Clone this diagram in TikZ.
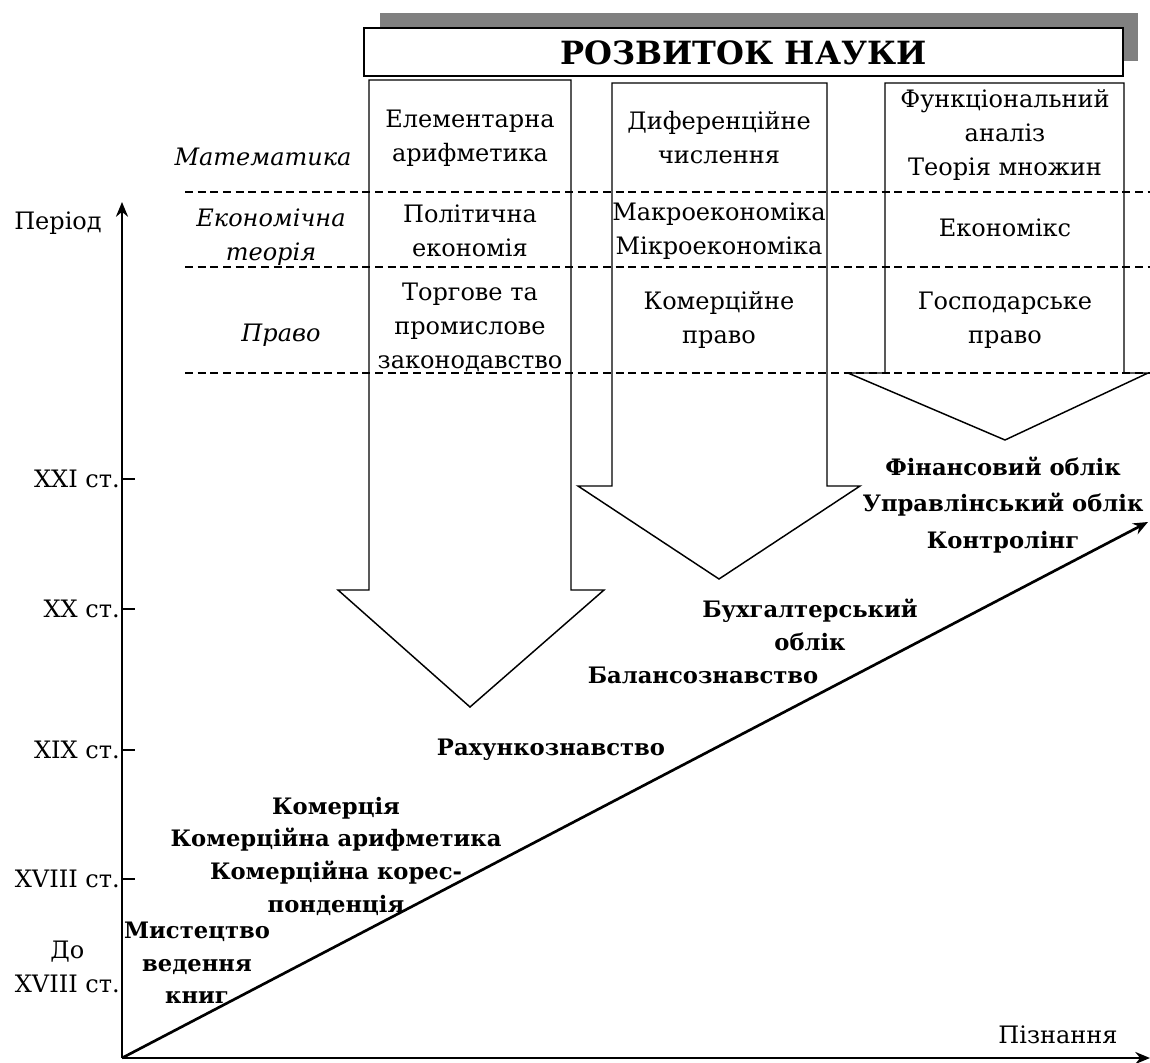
\documentclass[tikz,border=0pt]{standalone}
\usepackage{fontspec}
\setmainfont{DejaVu Serif}
\usetikzlibrary{arrows.meta}

\begin{document}
\begin{tikzpicture}[x=0.75pt,y=-0.75pt,
  txt/.style={align=center,inner sep=0pt,font=\fontsize{18}{25.5}\selectfont},
  btxt/.style={align=center,inner sep=0pt,font=\fontsize{17}{24.5}\selectfont\bfseries},
  itxt/.style={align=center,inner sep=0pt,font=\fontsize{18}{25.5}\selectfont\itshape},
  bigarrow/.style={line width=1.1pt,fill=white,line join=miter},
  level/.style={line width=0.8pt,dash pattern=on 6pt off 3.5pt},
  axis/.style={line width=2pt,-{Stealth[length=11pt,width=9pt]}},
  tick/.style={line width=1.1pt}]
\useasboundingbox (0,0) rectangle (1150,1063);
% title
\fill[gray] (380,13) rectangle (1138,61);
\draw[line width=1.1pt,fill=white] (364,28) rectangle (1123,76);
\node[inner sep=0pt,font=\fontsize{24}{30}\selectfont\bfseries] (title) at (743.5,53) {РОЗВИТОК НАУКИ};
% big arrows
\draw[bigarrow] (369,80) -- (571,80) -- (571,590) -- (604,590) -- (470,707) -- (338,590) -- (369,590) -- cycle;
\draw[bigarrow] (612,83) -- (827,83) -- (827,486) -- (860,486) -- (719,579) -- (578,486) -- (612,486) -- cycle;
\draw[bigarrow] (885,83) -- (1124,83) -- (1124,373) -- (1148,373) -- (1005,440) -- (848,373) -- (885,373) -- cycle;
% levels
\foreach \y in {192,267,373}
  \draw[level] (185,\y) -- (1150,\y);
% axes
\coordinate (O) at (122,1058);
\coordinate (ytop) at (122,202);
\coordinate (xend) at (1150,1058);
\coordinate (dend) at (1148,522);
\draw[axis] (O) -- (ytop);
\draw[axis] (O) -- (xend);
\draw[axis] (O) -- (dend);
\node[txt] (period) at (58,223) {Період};
\node[txt] (cogn) at (1058,1035) {Пізнання};
\foreach \y/\name/\lab in {479/c21/XXI ст.,609/c20/XX ст.,750/c19/XIX ст.,879/c18/XVIII ст.}{
  \draw[tick] (122,\y) -- (135,\y);
  \node[txt,anchor=east] (\name) at (120,\y) {\lab};
}
\node[txt,anchor=east] (c17) at (120,967) {До\\XVIII ст.};
% sciences
\node[itxt] (math) at (263,157) {Математика};
\node[itxt] (econ) at (271,237) {Економічна\\теорія};
\node[itxt] (law) at (281,335) {Право};
\node[txt] (m1) at (470,138) {Елементарна\\арифметика};
\node[txt] (e1) at (470,231) {Політична\\економія};
\node[txt] (l1) at (470,327) {Торгове та\\промислове\\законодавство};
\node[txt] (m2) at (719,138) {Диференційне\\числення};
\node[txt] (e2) at (719,231) {Макроекономіка\\Мікроекономіка};
\node[txt] (l2) at (719,320) {Комерційне\\право};
\node[txt] (m3) at (1005,135) {Функціональний\\аналіз\\Теорія множин};
\node[txt] (e3) at (1005,228) {Економікс};
\node[txt] (l3) at (1005,320) {Господарське\\право};
% accounting
\node[btxt,font=\fontsize{17}{27.5}\selectfont\bfseries] (fin) at (1003,505) {Фінансовий облік\\Управлінський облік\\Контролінг};
\node[btxt] (buh) at (810,625) {Бухгалтерський\\облік};
\node[btxt] (bal) at (703,675) {Балансознавство};
\node[btxt] (rah) at (551,750) {Рахункознавство};
\node[btxt] (com) at (336,856) {Комерція\\Комерційна арифметика\\Комерційна корес-\\понденція};
\node[btxt] (art) at (197,963) {Мистецтво\\ведення\\книг};
\end{tikzpicture}
\end{document}
